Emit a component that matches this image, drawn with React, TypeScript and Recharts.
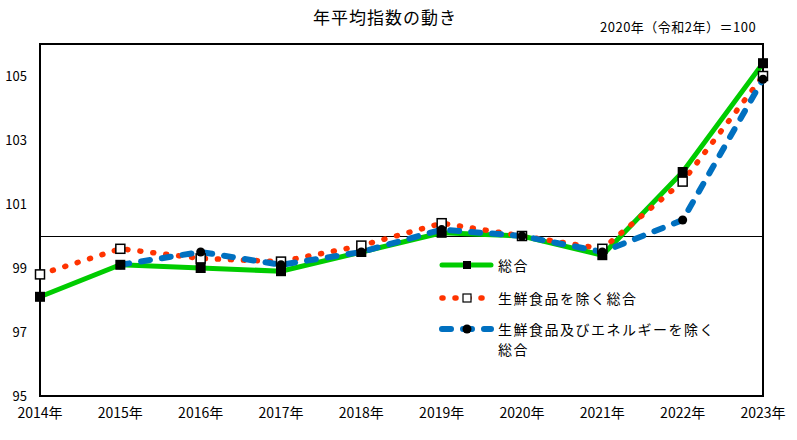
import { LineChart, Line, XAxis, YAxis, ReferenceLine, ReferenceArea, Legend } from "recharts";

const years = ["2014", "2015", "2016", "2017", "2018", "2019", "2020", "2021", "2022", "2023"];
const sougou = [98.1, 99.1, 99.0, 98.9, 99.5, 100.1, 100.0, 99.4, 102.0, 105.4];
const exFresh = [98.8, 99.6, 99.3, 99.2, 99.7, 100.4, 100.0, 99.6, 101.7, 105.0];
const exFreshEnergy = [null, 99.1, 99.5, 99.1, 99.5, 100.2, 100.0, 99.5, 100.5, 104.9];
const yTicks = [95, 97, 99, 101, 103, 105];

const data = years.map((y, i) => ({
  year: y,
  sougou: sougou[i],
  exFresh: exFresh[i],
  exFreshEnergy: exFreshEnergy[i],
}));

const FONT = '"Noto Sans CJK JP", "Noto Sans", sans-serif';
const GREEN = "#00CC00";
const RED = "#FF3300";
const BLUE = "#0070C0";

const BlackSquare = (p: any) => {
  if (p.cx == null || p.cy == null || p.value == null) return <g key={p.key} />;
  return <rect key={p.key} x={p.cx - 5} y={p.cy - 5} width={10} height={10} fill="#000" />;
};
const HollowSquare = (p: any) => {
  if (p.cx == null || p.cy == null || p.value == null) return <g key={p.key} />;
  return <rect key={p.key} x={p.cx - 4.5} y={p.cy - 4.5} width={9} height={9} fill="#fff" stroke="#000" strokeWidth={1.5} />;
};
const BlackCircle = (p: any) => {
  if (p.cx == null || p.cy == null || p.value == null) return <g key={p.key} />;
  return <circle key={p.key} cx={p.cx} cy={p.cy} r={4.5} fill="#000" />;
};

const legendItems = [
  { label: ["総合"], color: GREEN, dash: undefined, width: 5, marker: "square", top: 15 },
  { label: ["生鮮食品を除く総合"], color: RED, dash: "1 12", width: 5.5, marker: "hollow", top: 48 },
  { label: ["生鮮食品及びエネルギーを除く", "総合"], color: BLUE, dash: "9 12", width: 6, marker: "circle", top: 79 },
];

const renderLegend = () => (
  <div style={{ position: "relative", width: 340, height: 120, fontFamily: FONT }}>
    {legendItems.map((it, i) => (
      <div key={i} style={{ position: "absolute", left: 0, top: it.top - 8 }}>
        <svg width={60} height={16} style={{ position: "absolute", left: 0, top: 0 }}>
          <line x1={4} y1={8} x2={53} y2={8} stroke={it.color} strokeWidth={it.width} strokeLinecap="round" strokeDasharray={it.dash} />
          {it.marker === "square" && <rect x={25} y={4} width={8} height={8} fill="#000" />}
          {it.marker === "hollow" && <rect x={25} y={4} width={8} height={8} fill="#fff" stroke="#000" strokeWidth={1.2} />}
          {it.marker === "circle" && <circle cx={29} cy={8} r={4.5} fill="#000" />}
        </svg>
        {it.label.map((t, j) => (
          <div key={j} style={{ position: "absolute", left: 60, top: j * 20 - 2, whiteSpace: "nowrap", fontSize: 14, letterSpacing: 1.5, lineHeight: "20px", color: "#000" }}>
            {t}
          </div>
        ))}
      </div>
    ))}
  </div>
);

export default function App() {
  return (
    <div style={{ position: "absolute", left: 0, top: 0, width: 797, height: 440, background: "#fff", fontFamily: FONT }}>
      <div style={{ position: "absolute", left: 0, width: 770, top: 6, textAlign: "center", fontSize: 17, letterSpacing: 1, lineHeight: "22px" }}>
        年平均指数の動き
      </div>
      <div style={{ position: "absolute", left: 600, top: 18, fontSize: 13, letterSpacing: 0.5, lineHeight: "18px", whiteSpace: "nowrap" }}>
        2020年（令和2年）＝100
      </div>
      <LineChart width={797} height={440} data={data} margin={{ top: 44, right: 34, bottom: 0, left: 0 }}>
        <XAxis
          dataKey="year"
          height={44}
          interval={0}
          tickLine={false}
          axisLine={false}
          tickMargin={6}
          tickFormatter={(v) => `${v}年`}
          tick={{ fontSize: 14, fill: "#000", fontFamily: FONT }}
        />
        <YAxis
          width={40}
          domain={[95, 106]}
          ticks={yTicks}
          tickLine={false}
          axisLine={false}
          tickMargin={7}
          tick={{ fontSize: 13, fill: "#000", fontFamily: FONT }}
        />
        <ReferenceArea x1="2014" x2="2023" y1={95} y2={106} fill="none" stroke="#000" strokeWidth={2} />
        <ReferenceLine y={100} stroke="#000" strokeWidth={1} shapeRendering="crispEdges" />
        <Legend layout="vertical" align="center" verticalAlign="middle" content={renderLegend} wrapperStyle={{ left: 438, top: 250, width: 340 }} />
        <Line dataKey="sougou" stroke={GREEN} strokeWidth={5} dot={BlackSquare} activeDot={false} isAnimationActive={false} />
        <Line dataKey="exFresh" stroke={RED} strokeWidth={5.5} strokeDasharray="1 12" strokeLinecap="round" dot={HollowSquare} activeDot={false} isAnimationActive={false} />
        <Line dataKey="exFreshEnergy" stroke={BLUE} strokeWidth={6} strokeDasharray="9 12" strokeLinecap="round" dot={BlackCircle} activeDot={false} isAnimationActive={false} />
      </LineChart>
    </div>
  );
}
